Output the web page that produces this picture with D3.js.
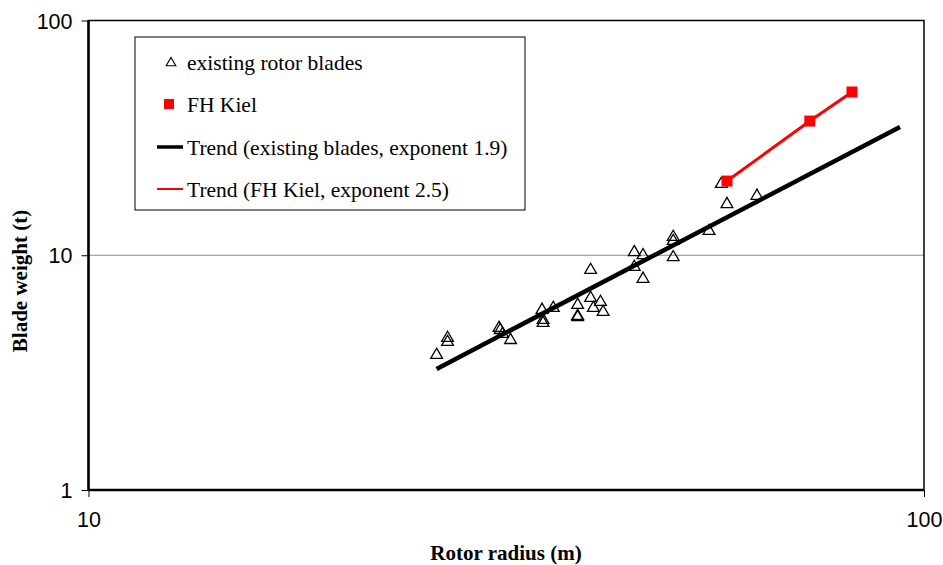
<!DOCTYPE html>
<html>
<head>
<meta charset="utf-8">
<script src="https://cdn.jsdelivr.net/npm/d3@7/dist/d3.min.js"></script>
<style>
  html, body { margin: 0; padding: 0; background: #fff; }
  svg { display: block; }
</style>
</head>
<body>
<div id="chart"></div>
<script>
// existing rotor blades: radius (m), weight (t)
const bladeRadius= [26.1, 26.9, 26.9, 31.0, 31.1, 31.3, 32.0, 34.9, 35.0, 35.0, 36.0,
  38.5, 38.5, 38.5, 39.9, 39.9, 40.2, 41.0, 41.3, 45.0, 45.0, 46.1, 46.1,
  50.1, 50.1, 50.1, 55.3, 57.2, 58.1, 63.1];
const bladeWeight= [3.76, 4.44, 4.27, 4.90, 4.80, 4.62, 4.35, 5.85, 5.15, 5.30, 5.96,
  6.14, 5.51, 5.45, 8.65, 6.57, 5.96, 6.32, 5.73, 10.3, 8.91, 10.0, 7.93,
  11.96, 11.5, 9.80, 12.68, 20.1, 16.5, 17.9];

const kielRadius= [58.1, 73.0, 82.0];
const kielWeight= [20.7, 37.3, 49.6];

const trendRadius= [26.1, 93.6];
const trendWeight= [3.28, 35.2];

const xTicks= [10, 100];
const yTicks= [1, 10, 100];

const legendLabels= [
  'existing rotor blades',
  'FH Kiel',
  'Trend (existing blades, exponent 1.9)',
  'Trend (FH Kiel, exponent 2.5)',
];

const W= 943, H= 565;
const M= { left: 88.5, right: 943-924, top: 20.5, bottom: 565-490 };
const SERIF= '"Liberation Serif", "Times New Roman", serif';

const svg= d3.select('#chart').append('svg')
  .attr('width', W).attr('height', H);

const x= d3.scaleLog().domain([10, 100]).range([M.left, W-M.right]);
const y= d3.scaleLog().domain([1, 100]).range([H-M.bottom, M.top]);

// gridline at 10
svg.append('line')
  .attr('x1', x(10)).attr('x2', x(100))
  .attr('y1', y(10)).attr('y2', y(10))
  .attr('stroke', '#888').attr('stroke-width', 1);

// frame
svg.append('rect')
  .attr('x', x(10)).attr('y', y(100))
  .attr('width', x(100)-x(10)).attr('height', y(1)-y(100))
  .attr('fill', 'none').attr('stroke', '#000').attr('stroke-width', 1.5);
svg.append('line')
  .attr('x1', x(10)).attr('x2', x(10)).attr('y1', y(100)).attr('y2', y(1))
  .attr('stroke', '#000').attr('stroke-width', 2.5);
svg.append('line')
  .attr('x1', x(10)).attr('x2', x(100)).attr('y1', y(1)).attr('y2', y(1))
  .attr('stroke', '#000').attr('stroke-width', 2.5);

// axes
const xAxis= svg.append('g')
  .attr('transform', `translate(0,${y(1)})`)
  .call(d3.axisBottom(x).tickValues(xTicks).tickFormat(d3.format('d')).tickSize(7).tickPadding(15));
const yAxis= svg.append('g')
  .attr('transform', `translate(${x(10)},0)`)
  .call(d3.axisLeft(y).tickValues(yTicks).tickFormat(d3.format('d')).tickSize(7).tickPadding(9));
[xAxis, yAxis].forEach(g => {
  g.select('.domain').remove();
  g.selectAll('line').attr('stroke', '#000').attr('stroke-width', 1);
  g.selectAll('text')
    .attr('font-family', '"Liberation Sans", Arial, sans-serif')
    .attr('font-size', 21.5).attr('fill', '#000');
});
yAxis.selectAll('text').attr('dy', '0.35em');

// axis titles
svg.append('text')
  .attr('x', 506).attr('y', 560)
  .attr('text-anchor', 'middle')
  .attr('font-family', SERIF)
  .attr('font-weight', 700).attr('font-size', 21)
  .text('Rotor radius (m)');
svg.append('text')
  .attr('transform', 'translate(27,281) rotate(-90)')
  .attr('text-anchor', 'middle')
  .attr('font-family', SERIF)
  .attr('font-weight', 700).attr('font-size', 21)
  .text('Blade weight (t)');

const line= d3.line().x(d => x(d[0])).y(d => y(d[1]));

// trend of existing blades
svg.append('path')
  .attr('d', line(d3.zip(trendRadius, trendWeight)))
  .attr('fill', 'none').attr('stroke', '#000').attr('stroke-width', 4.5);

// triangles
const tri= d3.symbol().type(d3.symbolTriangle).size(60);
svg.append('g').selectAll('path')
  .data(d3.zip(bladeRadius, bladeWeight))
  .join('path')
  .attr('d', tri)
  .attr('transform', d => `translate(${x(d[0])},${y(d[1])})`)
  .attr('fill', 'none').attr('stroke', '#000').attr('stroke-width', 1.3);

// FH Kiel line + squares
const kiel= d3.zip(kielRadius, kielWeight);
svg.append('path')
  .attr('d', line(kiel))
  .attr('fill', 'none').attr('stroke', '#f00').attr('stroke-width', 3);
svg.append('g').selectAll('rect')
  .data(kiel)
  .join('rect')
  .attr('x', d => x(d[0])-5.5).attr('y', d => y(d[1])-5.5)
  .attr('width', 11).attr('height', 11)
  .attr('fill', '#f00');

// legend
const lg= svg.append('g');
lg.append('rect')
  .attr('x', 135).attr('y', 37).attr('width', 390).attr('height', 173)
  .attr('fill', '#fff').attr('stroke', '#000').attr('stroke-width', 1);
const rowY= [62, 104, 147, 189];
lg.append('path')
  .attr('d', d3.symbol().type(d3.symbolTriangle).size(40))
  .attr('transform', `translate(171,${rowY[0]+1})`)
  .attr('fill', 'none').attr('stroke', '#000').attr('stroke-width', 1.1);
lg.append('rect')
  .attr('x', 164).attr('y', rowY[1]-5).attr('width', 10).attr('height', 10)
  .attr('fill', '#f00');
lg.append('line')
  .attr('x1', 157).attr('x2', 183).attr('y1', rowY[2]).attr('y2', rowY[2])
  .attr('stroke', '#000').attr('stroke-width', 3.5);
lg.append('line')
  .attr('x1', 157).attr('x2', 183).attr('y1', rowY[3]).attr('y2', rowY[3])
  .attr('stroke', '#f00').attr('stroke-width', 2);
lg.selectAll('text.lbl')
  .data(legendLabels)
  .join('text')
  .attr('class', 'lbl')
  .attr('x', 187).attr('y', (d, i) => rowY[i])
  .attr('dy', '0.35em')
  .attr('font-family', SERIF)
  .attr('font-size', 21.5)
  .text(d => d);
</script>
</body>
</html>
